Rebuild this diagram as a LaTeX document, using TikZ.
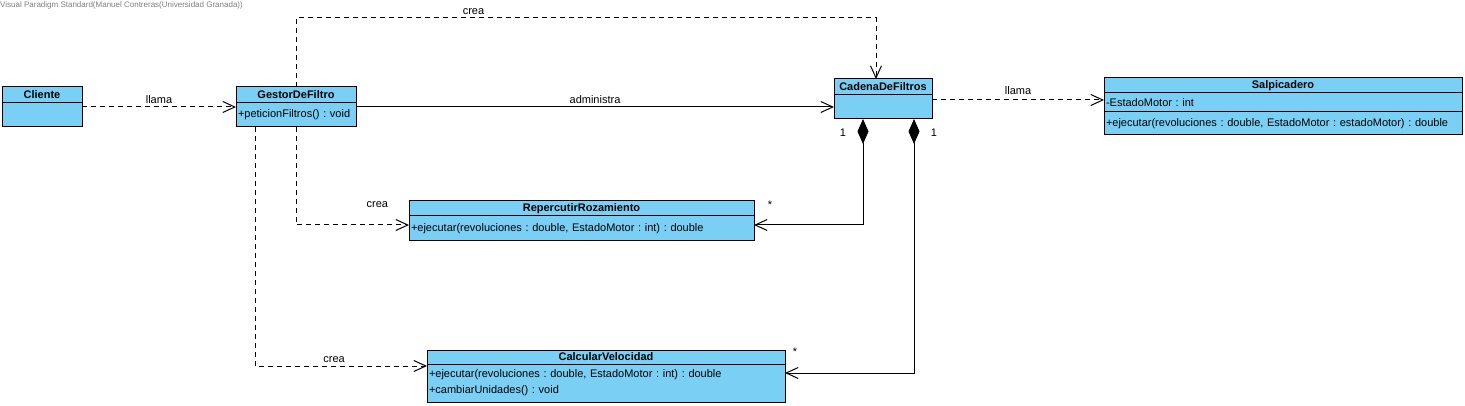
\documentclass[tikz,border=0pt]{standalone}
\usepackage{fontspec}
\setmainfont{Liberation Sans}
\usetikzlibrary{shapes, arrows.meta, positioning, calc}
\definecolor{vpblue}{RGB}{122,207,245}
\definecolor{vpgray}{RGB}{128,128,128}
\frenchspacing

\tikzset{
  classhead/.style={draw, fill=vpblue, line width=1pt, inner sep=0pt, outer sep=0pt,
    font=\fontsize{11}{13}\selectfont\bfseries},
  classbody/.style={draw, fill=vpblue, line width=1pt, inner xsep=2pt, inner ysep=0pt,
    outer sep=0pt, align=left, font=\fontsize{11}{16}\selectfont},
  lbl/.style={font=\fontsize{11}{13}\selectfont, inner sep=1pt},
  dep/.style={line width=1pt, dash pattern=on 5pt off 4pt,
    -{Straight Barb[length=12pt,width=11pt]}},
  assoc/.style={line width=1pt, -{Straight Barb[length=12pt,width=11pt]}},
  comp/.style={line width=1pt,
    {Diamond[length=25pt,width=11pt]}-{Straight Barb[length=12pt,width=11pt]}},
}

\begin{document}
\begin{tikzpicture}[x=1pt, y=-1pt]
  \useasboundingbox (0,0) rectangle (1465,406);

  \node[anchor=north west, inner sep=0pt, text=vpgray, font=\fontsize{8}{9}\selectfont] (wm) at (0,2)
    {Visual Paradigm Standard(Manuel Contreras(Universidad Granada))};

  % classes
  \node[classhead, anchor=north west, minimum width=80pt, minimum height=16pt] (clienteH) at (2,87) {Cliente};
  \node[classbody, minimum width=80pt, minimum height=24pt, below=0pt of clienteH] (clienteB) {};

  \node[classhead, anchor=north west, minimum width=120pt, minimum height=16pt] (gestorH) at (236,87) {GestorDeFiltro};
  \node[classbody, text width=116pt, minimum height=24pt, below=0pt of gestorH] (gestorB) {+peticionFiltros() : void};

  \node[classhead, anchor=north west, minimum width=98pt, minimum height=16pt] (cadenaH) at (834,79) {CadenaDeFiltros};
  \node[classbody, minimum width=98pt, minimum height=24pt, below=0pt of cadenaH] (cadenaB) {};

  \node[classhead, anchor=north west, minimum width=358pt, minimum height=15pt] (salpH) at (1104,78) {Salpicadero};
  \node[classbody, text width=354pt, minimum height=19pt, below=0pt of salpH] (salpA) {-EstadoMotor : int};
  \node[classbody, text width=354pt, minimum height=23pt, below=0pt of salpA] (salpO)
    {+ejecutar(revoluciones : double, EstadoMotor : estadoMotor) : double};

  \node[classhead, anchor=north west, minimum width=345pt, minimum height=15pt] (reperH) at (409,201) {RepercutirRozamiento};
  \node[classbody, text width=341pt, minimum height=25pt, below=0pt of reperH] (reperB)
    {+ejecutar(revoluciones : double, EstadoMotor : int) : double};

  \node[classhead, anchor=north west, minimum width=358pt, minimum height=14pt] (calcH) at (427,350) {CalcularVelocidad};
  \node[classbody, text width=354pt, minimum height=38pt, below=0pt of calcH] (calcB)
    {+ejecutar(revoluciones : double, EstadoMotor : int) : double\\+cambiarUnidades() : void};

  % relations
  \draw[dep] ($(clienteB.north east)+(0,4)$) -- node[lbl, above=2pt] {llama} ($(gestorB.north west)+(0,4)$);
  \draw[assoc] ($(gestorB.north east)+(0,4)$) -- node[lbl, above=2pt] {administra} (cadenaB.west);
  \draw[dep] (gestorH.north) -- ++(0,-69) -| node[lbl, pos=0.153, above=2pt] {crea} ($(cadenaH.north)+(-7,0)$);
  \draw[dep] ($(cadenaB.north east)+(0,5)$) coordinate (c1) -- node[lbl, above=4pt] {llama} (c1 -| salpA.west);

  \draw[comp] ($(cadenaB.south)+(-20,0)$) |- ($(reperB.north east)+(0,9)$);
  \draw[comp] ($(cadenaB.south)+(31,0)$) |- ($(calcB.north east)+(0,9)$);

  \draw[dep] (gestorB.south) |- node[lbl, pos=0.86, above=16pt] {crea} ($(reperB.north west)+(0,9)$);
  \draw[dep] ($(gestorB.south)+(-41,0)$) |- node[lbl, pos=0.73, above=2pt] {crea} ($(calcB.north west)+(0,2)$);

  % multiplicities
  \node[lbl] (m1) at ($(cadenaB.south)+(-40,14)$) {1};
  \node[lbl] (m2) at ($(cadenaB.south)+(51,14)$) {1};
  \node[lbl] (m3) at ($(reperB.north east)+(16,-11)$) {*};
  \node[lbl] (m4) at ($(calcB.north east)+(10,-12)$) {*};
\end{tikzpicture}
\end{document}
